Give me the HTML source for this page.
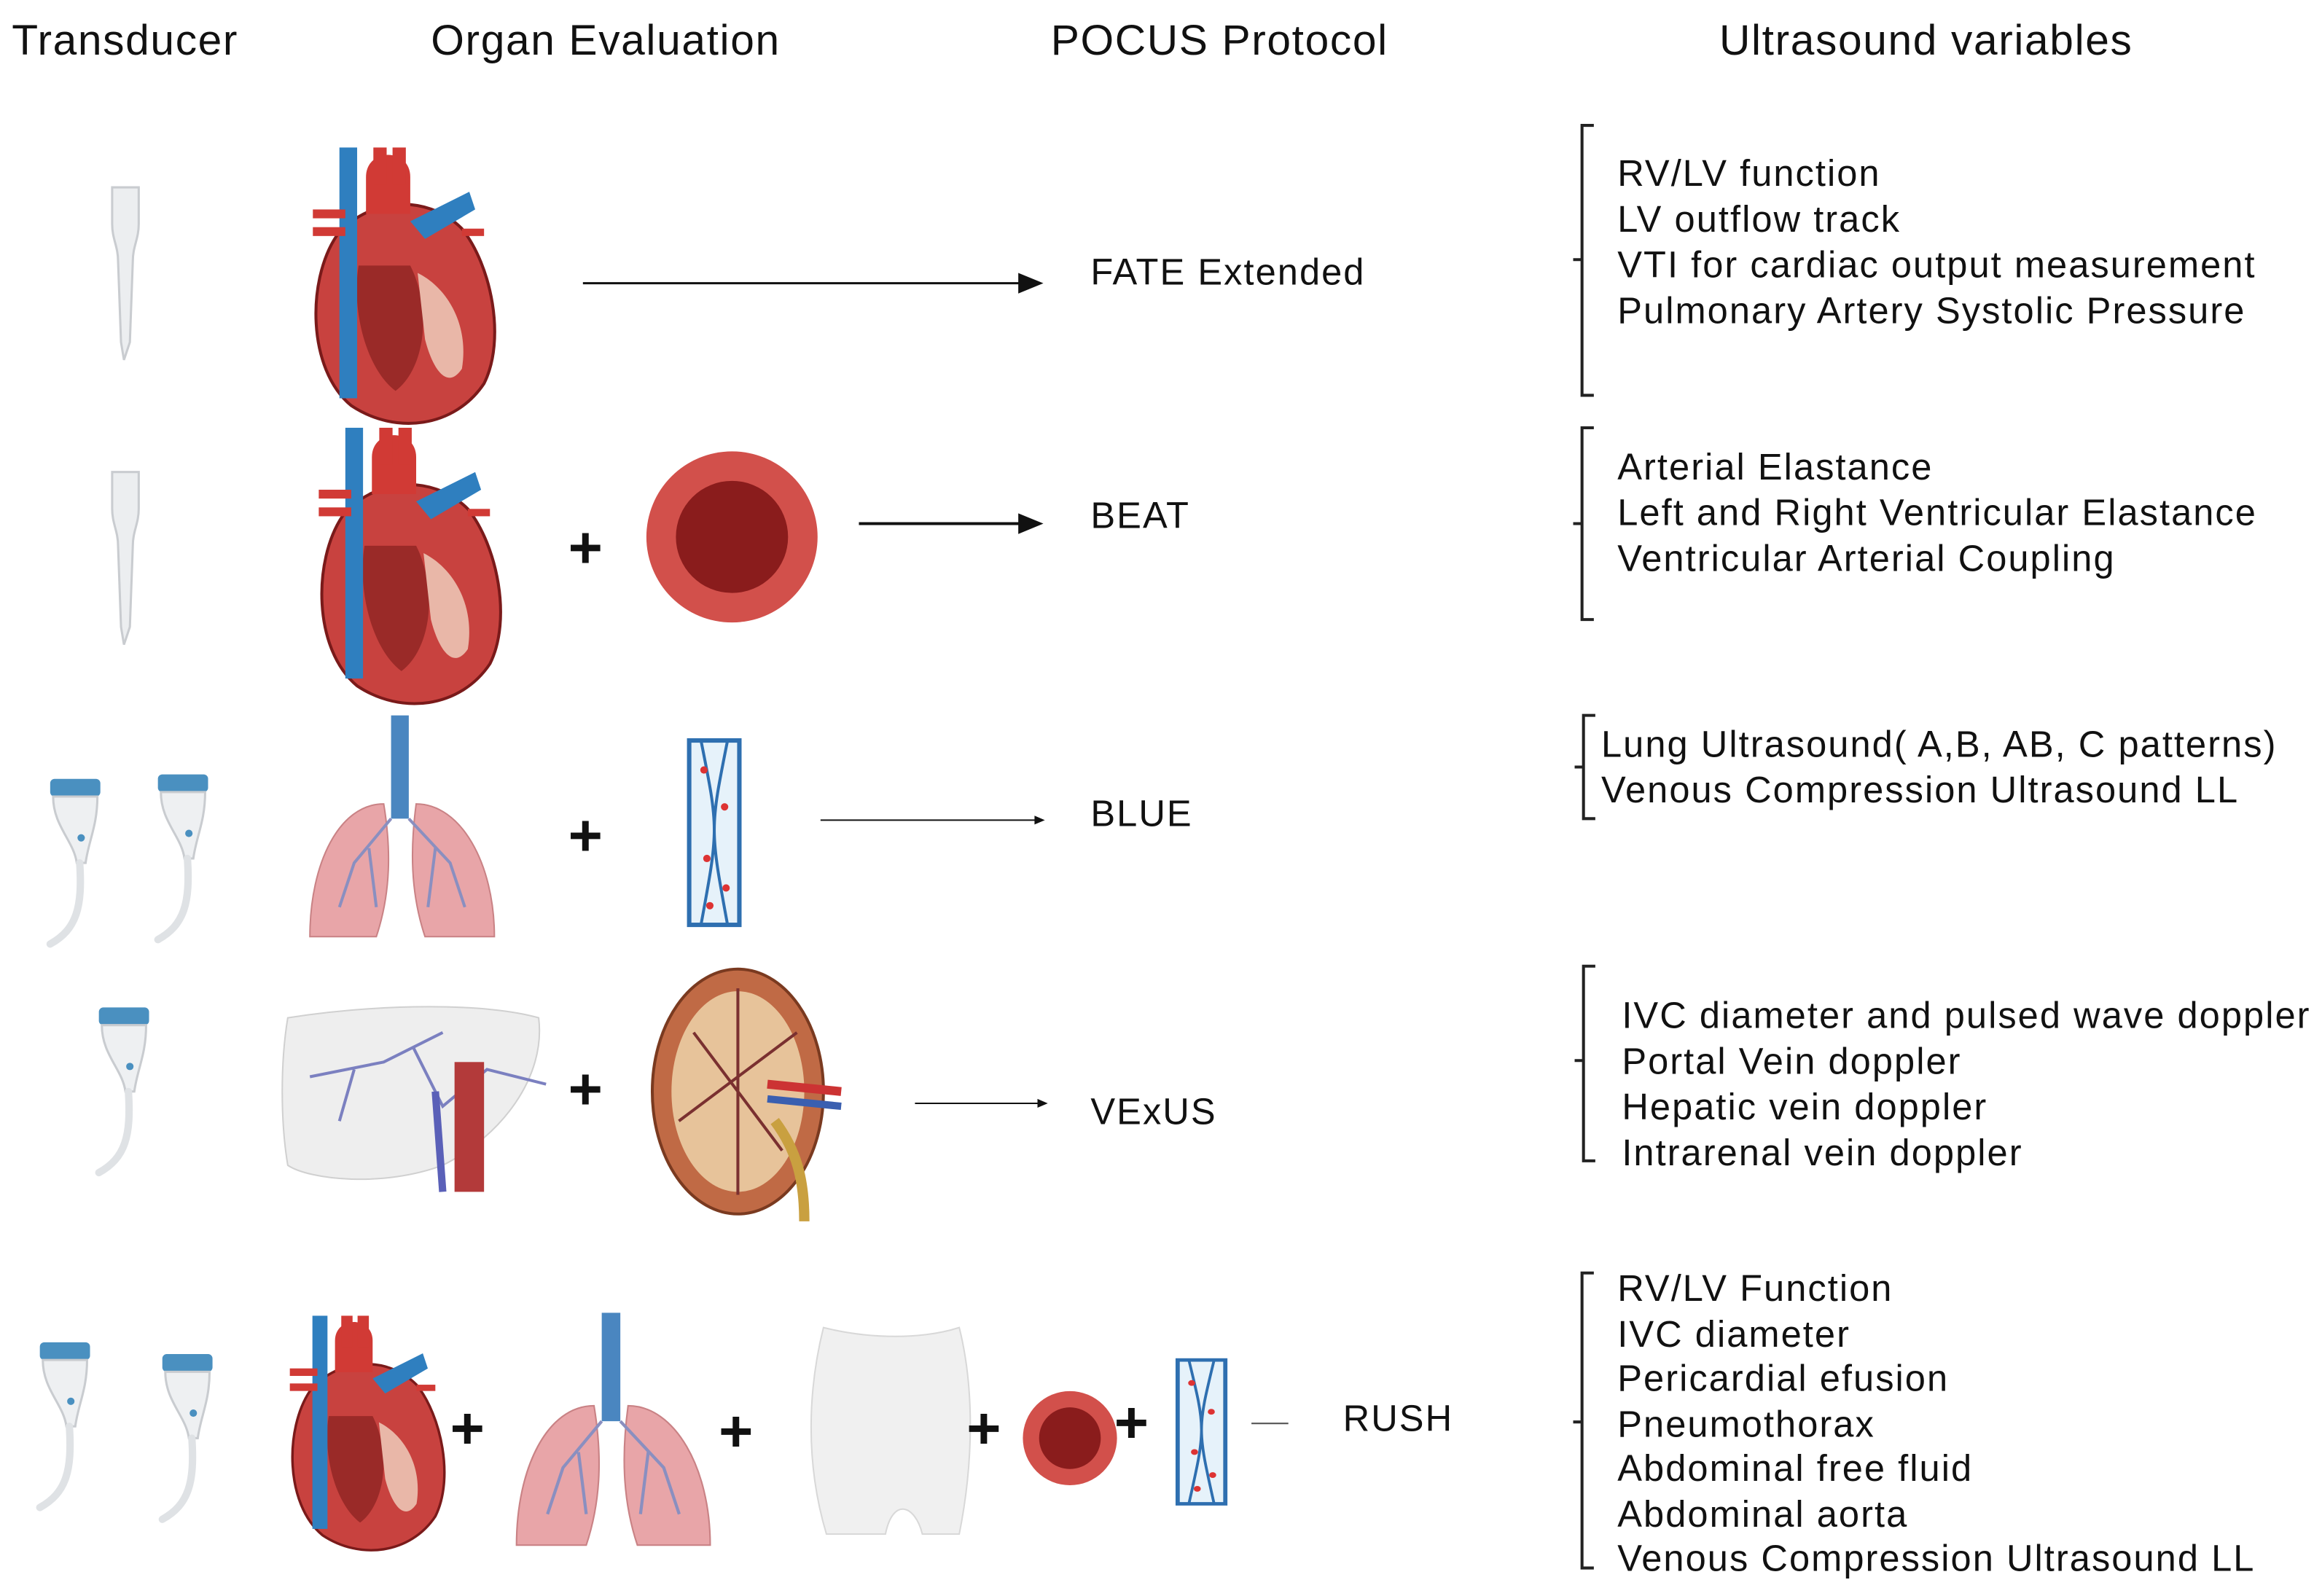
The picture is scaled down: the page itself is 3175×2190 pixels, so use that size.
<!DOCTYPE html>
<html><head><meta charset="utf-8"><style>
html,body{margin:0;padding:0;background:#fff;}
svg{display:block;}
text{font-family:"Liberation Sans",sans-serif;fill:#111;}
.t{font-size:25px;letter-spacing:1px;}
.h{font-size:29px;letter-spacing:0.8px;}
</style></head><body>
<svg width="3175" height="2190" viewBox="0 0 1568 1082" preserveAspectRatio="none" xmlns="http://www.w3.org/2000/svg">
<defs>
<g id="heart">
 <path d="M20 60 C0 90 0 150 30 175 C60 195 100 190 120 160 C135 130 125 80 105 55 C80 30 40 35 20 60Z" fill="#c8423f" stroke="#7a1a1a" stroke-width="2"/>
 <path d="M35 80 C30 110 40 150 60 165 C80 150 85 110 70 80Z" fill="#9a2a28"/>
 <path d="M75 85 C95 95 110 120 105 150 C95 165 85 150 80 130Z" fill="#e9b7a8"/>
 <rect x="22" y="0" width="12" height="170" fill="#2f7fbf"/>
 <path d="M40 20 C40 0 70 0 70 20 L70 45 L40 45Z" fill="#d13a35"/>
 <rect x="45" y="0" width="9" height="25" fill="#d13a35"/>
 <rect x="58" y="0" width="9" height="25" fill="#d13a35"/>
 <path d="M70 50 L110 30 L114 42 L80 62Z" fill="#2f7fbf"/>
 <rect x="4" y="42" width="22" height="6" fill="#d13a35"/>
 <rect x="4" y="54" width="22" height="6" fill="#d13a35"/>
 <rect x="105" y="55" width="15" height="5" fill="#d13a35"/>
</g>
<g id="probe1">
 <path d="M0 0 h18 v25 c0 10 -4 15 -4 25 l-2 55 -4 12 -2 -12 -2 -55 c0 -10 -4 -15 -4 -25z" fill="#eceef0" stroke="#c9ccd0" stroke-width="1.5"/>
</g>
<g id="probe2">
 <rect x="0" y="0" width="34" height="12" rx="3" fill="#4a90c0"/>
 <path d="M2 12 h30 c0 20 -6 30 -8 45 l-6 0 c-2 -15 -16 -25 -16 -45z" fill="#eef0f2" stroke="#c9ccd0" stroke-width="1.5"/>
 <circle cx="21" cy="40" r="2.5" fill="#4a90c0"/>
 <path d="M20 57 c2 30 -2 45 -20 55" fill="none" stroke="#dfe2e5" stroke-width="5" stroke-linecap="round"/>
</g>
<g id="lungs">
 <rect x="55" y="0" width="12" height="70" fill="#4a86c0"/>
 <path d="M50 60 C20 60 0 100 0 150 L45 150 C55 120 55 90 50 60Z" fill="#e8a5a8" stroke="#c98285"/>
 <path d="M72 60 C102 60 125 100 125 150 L78 150 C68 120 68 90 72 60Z" fill="#e8a5a8" stroke="#c98285"/>
 <path d="M55 70 L30 100 L20 130 M40 90 L45 130 M67 70 L95 100 L105 130 M85 90 L80 130" stroke="#8a8fc0" stroke-width="2" fill="none"/>
</g>
<g id="vessel">
 <rect x="0" y="0" width="34" height="125" fill="#e6f2fa" stroke="#2e6fb0" stroke-width="3"/>
 <path d="M8 0 C20 60 20 60 8 125 M26 0 C14 60 14 60 26 125" stroke="#2e6fb0" stroke-width="2" fill="none"/>
 <circle cx="10" cy="20" r="2.5" fill="#d33"/><circle cx="24" cy="45" r="2.5" fill="#d33"/><circle cx="12" cy="80" r="2.5" fill="#d33"/><circle cx="25" cy="100" r="2.5" fill="#d33"/><circle cx="14" cy="112" r="2.5" fill="#d33"/>
</g>
<g id="rbc"><circle r="58" fill="#d2504b"/><circle r="38" fill="#8a1c1c"/></g>
</defs>

<text class="h" x="8" y="37">Transducer</text>
<text class="h" x="292" y="37">Organ Evaluation</text>
<text class="h" x="712" y="37">POCUS Protocol</text>
<text class="h" x="1165" y="37">Ultrasound variables</text>

<!-- Row 1 -->
<use href="#probe1" x="76" y="127"/>
<use href="#heart" x="208" y="100"/>
<line x1="395" y1="192" x2="695" y2="192" stroke="#111" stroke-width="1.5"/>
<polygon points="707,192 690,185 690,199" fill="#111"/>
<text class="t" x="739" y="193">FATE Extended</text>
<path d="M1080 85 H1072 V268 H1080 M1066 176 H1072" stroke="#222" stroke-width="2" fill="none"/>
<g class="t"><text class="t" x="1096" y="126">RV/LV function</text><text class="t" x="1096" y="157">LV outflow track</text><text class="t" x="1096" y="188">VTI for cardiac output measurement</text><text class="t" x="1096" y="219">Pulmonary Artery Systolic Pressure</text></g>

<!-- Row 2 -->
<use href="#probe1" x="76" y="320"/>
<use href="#heart" x="212" y="290"/>
<text x="385" y="385" font-size="40" font-weight="bold">+</text>
<use href="#rbc" x="496" y="364"/>
<line x1="582" y1="355" x2="695" y2="355" stroke="#111" stroke-width="2"/>
<polygon points="707,355 690,348 690,362" fill="#111"/>
<text class="t" x="739" y="358">BEAT</text>
<path d="M1080 290 H1072 V420 H1080 M1066 355 H1072" stroke="#222" stroke-width="2" fill="none"/>
<text class="t" x="1096" y="325">Arterial Elastance</text><text class="t" x="1096" y="356">Left and Right Ventricular Elastance</text><text class="t" x="1096" y="387">Ventricular Arterial Coupling</text>

<!-- Row 3 -->
<use href="#probe2" x="34" y="528"/>
<use href="#probe2" x="107" y="525"/>
<use href="#lungs" x="210" y="485"/>
<text x="385" y="580" font-size="40" font-weight="bold">+</text>
<use href="#vessel" x="467" y="502"/>
<line x1="556" y1="556" x2="703" y2="556" stroke="#111" stroke-width="1"/>
<polygon points="708,556 701,553 701,559" fill="#111"/>
<text class="t" x="739" y="560">BLUE</text>
<path d="M1081 485 H1073 V555 H1081 M1067 520 H1073" stroke="#222" stroke-width="2" fill="none"/>
<text class="t" x="1085" y="513">Lung Ultrasound( A,B, AB, C patterns)</text><text class="t" x="1085" y="544">Venous Compression Ultrasound LL</text>

<!-- Row 4 -->
<use href="#probe2" x="67" y="683"/>
<path d="M195 690 C260 680 330 680 365 690 C370 730 340 770 300 790 C260 805 210 800 195 790 C190 760 190 720 195 690Z" fill="#eeeeee" stroke="#d0d0d0"/>
<path d="M210 730 L260 720 L300 700 M240 725 L230 760 M280 710 L300 750 L330 725 L370 735" stroke="#7b80c0" stroke-width="2" fill="none"/>
<rect x="308" y="720" width="20" height="88" fill="#b33a3a"/>
<path d="M295 740 L300 808" stroke="#5a60b8" stroke-width="5"/>
<text x="385" y="752" font-size="40" font-weight="bold">+</text>
<ellipse cx="500" cy="740" rx="58" ry="83" fill="#c06a45" stroke="#7a3a20" stroke-width="2"/>
<ellipse cx="500" cy="740" rx="45" ry="68" fill="#e7c39a"/>
<path d="M470 700 L530 780 M460 760 L540 700 M500 670 L500 810" stroke="#7a3030" stroke-width="2"/>
<path d="M520 735 L570 740" stroke="#c33" stroke-width="6"/><path d="M520 745 L570 750" stroke="#3a5fb0" stroke-width="5"/>
<path d="M525 760 C540 780 545 800 545 828" stroke="#c9a040" stroke-width="7" fill="none"/>
<line x1="620" y1="748" x2="705" y2="748" stroke="#111" stroke-width="1"/>
<polygon points="710,748 703,745 703,751" fill="#111"/>
<text class="t" x="739" y="762">VExUS</text>
<path d="M1081 655 H1073 V787 H1081 M1067 719 H1073" stroke="#222" stroke-width="2" fill="none"/>
<text class="t" x="1099" y="697">IVC diameter and pulsed wave doppler</text><text class="t" x="1099" y="728">Portal Vein doppler</text><text class="t" x="1099" y="759">Hepatic vein doppler</text><text class="t" x="1099" y="790">Intrarenal vein doppler</text>

<!-- Row 5 -->
<use href="#probe2" x="27" y="910"/>
<use href="#probe2" x="110" y="918"/>
<g transform="translate(193,892) scale(0.85)"><use href="#heart"/></g>
<text x="305" y="982" font-size="40" font-weight="bold">+</text>
<g transform="translate(350,890) scale(1.05)"><use href="#lungs"/></g>
<text x="487" y="984" font-size="40" font-weight="bold">+</text>
<path d="M558 900 C590 908 625 908 650 900 C660 940 660 990 650 1040 L625 1040 C620 1020 605 1015 600 1040 L560 1040 C545 990 548 940 558 900Z" fill="#f0f0f0" stroke="#d8d8d8"/>
<text x="655" y="982" font-size="40" font-weight="bold">+</text>
<g transform="translate(725,975) scale(0.55)"><use href="#rbc"/></g>
<text x="755" y="978" font-size="40" font-weight="bold">+</text>
<g transform="translate(798,922) scale(0.95,0.78)"><use href="#vessel"/></g>
<line x1="848" y1="965" x2="873" y2="965" stroke="#555" stroke-width="1"/>
<text class="t" x="910" y="970">RUSH</text>
<path d="M1080 863 H1072 V1063 H1080 M1066 964 H1072" stroke="#222" stroke-width="2" fill="none"/>
<text class="t" x="1096" y="882">RV/LV Function</text><text class="t" x="1096" y="913">IVC diameter</text><text class="t" x="1096" y="943">Pericardial efusion</text><text class="t" x="1096" y="974">Pneumothorax</text><text class="t" x="1096" y="1004">Abdominal free fluid</text><text class="t" x="1096" y="1035">Abdominal aorta</text><text class="t" x="1096" y="1065">Venous Compression Ultrasound LL</text>
</svg>
</body></html>
